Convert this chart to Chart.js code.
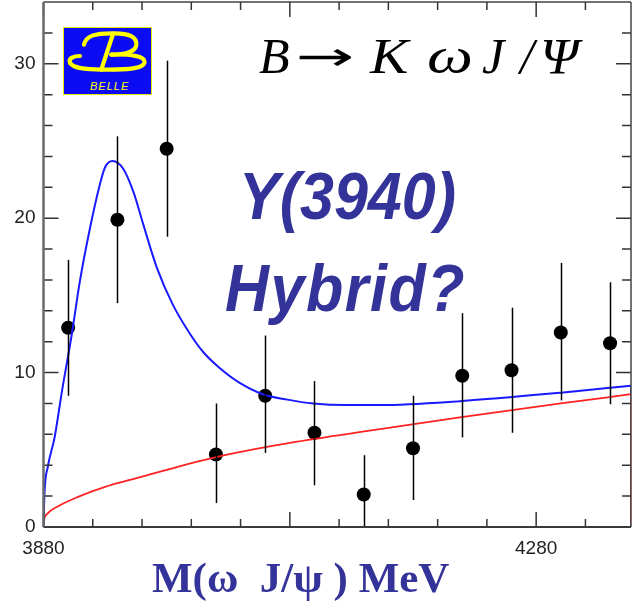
<!DOCTYPE html>
<html lang="en">

<head>
  <meta charset="UTF-8" />
  <title>B → K ω J/Ψ</title>
  <script src="https://cdn.jsdelivr.net/npm/chart.js"></script>
  <style>
    body {
      margin: 0;
      background: #fff;
    }

    #wrap {
      position: relative;
      width: 637px;
      height: 605px;
      overflow: hidden;
    }

    canvas {
      position: absolute;
      left: 0;
      top: 0;
    }

    .lbl {
      position: absolute;
      white-space: pre;
      line-height: 1;
    }

    .hybrid {
      font-family: "Liberation Sans", Arial, sans-serif;
      font-weight: bold;
      font-style: italic;
      font-size: 61px;
      color: #333399;
      transform: scaleY(1.1);
      transform-origin: left top;
    }

    .decay {
      font-family: "Liberation Serif", "Times New Roman", serif;
      font-style: italic;
      font-size: 50px;
      color: #000;
      top: 31px;
    }

    #xtitle {
      font-family: "Liberation Serif", "Times New Roman", serif;
      font-weight: bold;
      font-size: 43px;
      color: #333399;
      left: 152px;
      top: 556px;
    }

    #logo {
      position: absolute;
      left: 63px;
      top: 27px;
      width: 87px;
      height: 66px;
      background: #0c0cf4;
      border: 1px solid #e8e800;
    }

    #logo span {
      position: absolute;
      left: 26px;
      top: 52px;
      font: italic 11px "Liberation Sans", Arial, sans-serif;
      letter-spacing: 1px;
      color: #ffff00;
    }
  </style>
</head>

<body>
  <div id="wrap">
    <canvas id="omegaJpsiChart" width="637" height="605"></canvas>

    <div id="logo">
      <svg width="87" height="66" viewBox="0 0 87 66">
        <g fill="none" stroke="#ffff00" stroke-width="4.2" stroke-linecap="round">
          <path d="M20,16.6 C22,8 30,5 50.6,5.3 C64,5.5 73,8 72.3,17 C71.5,24 60,26.6 47.3,26.6" />
          <path d="M49,6 L37.3,41.6" />
          <path d="M47.3,26.6 C66,26 81,28 80.6,34 C80,41 60,42 37.3,41.6 C25,41.5 10,41 6,35 C4,30 10,28 16,28" />
        </g>
      </svg>
      <span>BELLE</span>
    </div>

    <div class="lbl decay" style="left:259px">B</div>
    <div class="lbl decay" style="left:296px;font-style:normal;font-family:'DejaVu Sans',sans-serif;font-size:40px;top:36px;transform:scaleX(1.75);transform-origin:left top">→</div>
    <div class="lbl decay" style="left:370px;transform:scaleX(1.15);transform-origin:left top">K</div>
    <div class="lbl decay" style="left:427px;transform:scaleX(1.3);transform-origin:left top">ω</div>
    <div class="lbl decay" style="left:482px">J</div>
    <div class="lbl decay" style="left:520px">/</div>
    <div class="lbl decay" style="left:540px;transform:scaleX(1.1);transform-origin:left top">Ψ</div>

    <div class="lbl hybrid" style="left:239px;top:163px">Y(3940)</div>
    <div class="lbl hybrid" style="left:225px;top:255px;letter-spacing:1.5px">Hybrid?</div>

    <div class="lbl" id="xtitle">M(ω  J/ψ ) MeV</div>
  </div>

  <script>
    // measured yield per 40 MeV bin
    const binCenters = [3900, 3940, 3980, 4020, 4060, 4100, 4140, 4180, 4220, 4260, 4300, 4340];
    const counts = [12.9, 19.9, 24.5, 4.7, 8.5, 6.1, 2.1, 5.1, 9.8, 10.15, 12.6, 11.9];
    const errHigh = [17.3, 25.3, 30.2, 8.0, 12.4, 9.45, 4.65, 8.5, 13.85, 14.2, 17.1, 15.85];
    const errLow = [8.5, 14.5, 18.8, 1.55, 4.8, 2.7, 0, 1.75, 5.8, 6.1, 8.2, 7.95];

    // fit: resonance + threshold background
    const fitMass = [3880, 3880.8, 3883.5, 3889, 3895, 3903, 3909.5, 3917.6, 3925.8, 3930, 3936, 3944.7, 3953, 3961,
      3972, 3985, 3999, 4010, 4023, 4039, 4058, 4078, 4099, 4126, 4153, 4218, 4300, 4357];
    const fitTotal = [0, 2.2, 3.9, 5.8, 8.8, 12.5, 15.9, 19.3, 22.2, 23.3, 23.7, 23.2, 21.7, 19.6,
      16.8, 14.4, 12.5, 11.3, 10.3, 9.35, 8.6, 8.25, 8.0, 7.9, 7.9, 8.15, 8.7, 9.15];

    // background only
    const bkgMass = [3880, 3880.5, 3883, 3892, 3908, 3930, 3957, 3989, 4030, 4080, 4150, 4218, 4300, 4357];
    const bkgVal = [0, 0.45, 0.85, 1.35, 1.95, 2.6, 3.2, 3.9, 4.7, 5.45, 6.3, 7.1, 8.0, 8.6];

    // axis ticks
    const xMin = 3880, xMax = 4357;
    const yMin = 0, yMax = 34;
    const xLabels = [3880, 4280];
    const yLabels = [0, 10, 20, 30];
    const xTicks = [3880, 3920, 3960, 4000, 4040, 4080, 4120, 4160, 4200, 4240, 4280, 4320];
    const xMajor = [3880, 4080, 4280];
    const yTicks = [0, 2, 4, 6, 8, 10, 12, 14, 16, 18, 20, 22, 24, 26, 28, 30, 32];
    const yMajor = [0, 10, 20, 30];

    const toXY = (xs, ys) => xs.map((x, i) => ({ x, y: ys[i] }));
    const labelFont = '19px "Liberation Sans", Arial, sans-serif';

    // error bars
    const errorBars = {
      id: 'errorBars',
      afterDatasetsDraw(chart) {
        const { ctx, scales: { x, y } } = chart;
        ctx.save();
        ctx.strokeStyle = '#000';
        ctx.lineWidth = 1.5;
        binCenters.forEach((m, i) => {
          const px = Math.round(x.getPixelForValue(m)) + 0.5;
          ctx.beginPath();
          ctx.moveTo(px, y.getPixelForValue(errHigh[i]));
          ctx.lineTo(px, y.getPixelForValue(errLow[i]));
          ctx.stroke();
        });
        ctx.restore();
      }
    };

    // frame with inward ticks on all four sides, plus y labels
    const frameTicks = {
      id: 'frameTicks',
      afterDraw(chart) {
        const { ctx, chartArea: a, scales: { x, y } } = chart;
        ctx.save();
        ctx.strokeStyle = '#333';
        ctx.lineWidth = 1.5;
        xTicks.forEach(v => {
          const px = x.getPixelForValue(v);
          const len = xMajor.includes(v) ? 15 : 8;
          ctx.beginPath();
          ctx.moveTo(px, a.bottom); ctx.lineTo(px, a.bottom - len);
          ctx.moveTo(px, a.top); ctx.lineTo(px, a.top + len);
          ctx.stroke();
        });
        yTicks.forEach(v => {
          const py = y.getPixelForValue(v);
          const len = yMajor.includes(v) ? 15 : 9;
          ctx.beginPath();
          ctx.moveTo(a.left, py); ctx.lineTo(a.left + len, py);
          ctx.moveTo(a.right, py); ctx.lineTo(a.right - len, py);
          ctx.stroke();
        });
        // box
        ctx.lineWidth = 1.5;
        ctx.strokeStyle = '#444';
        ctx.beginPath();
        ctx.moveTo(a.left, a.top); ctx.lineTo(a.right, a.top);
        ctx.moveTo(a.right, a.top); ctx.lineTo(a.right, a.bottom);
        ctx.stroke();
        ctx.lineWidth = 2;
        ctx.strokeStyle = '#3a3a3a';
        ctx.beginPath();
        ctx.moveTo(a.left, a.bottom); ctx.lineTo(a.right, a.bottom);
        ctx.stroke();
        ctx.lineWidth = 2.5;
        ctx.strokeStyle = '#6a6a6a';
        ctx.beginPath();
        ctx.moveTo(a.left, a.top); ctx.lineTo(a.left, a.bottom);
        ctx.stroke();

        ctx.fillStyle = '#222';
        ctx.font = labelFont;
        ctx.textAlign = 'right';
        ctx.textBaseline = 'middle';
        yLabels.forEach(v => ctx.fillText(String(v), a.left - 8, y.getPixelForValue(v)));
        ctx.restore();
      }
    };

    new Chart(document.getElementById('omegaJpsiChart').getContext('2d'), {
      type: 'scatter',
      data: {
        datasets: [
          {
            label: 'total fit',
            data: toXY(fitMass, fitTotal),
            showLine: true,
            borderColor: '#1a1aff',
            borderWidth: 2,
            pointRadius: 0,
            cubicInterpolationMode: 'monotone'
          },
          {
            label: 'background',
            data: toXY(bkgMass, bkgVal),
            showLine: true,
            borderColor: '#ff2222',
            borderWidth: 1.8,
            pointRadius: 0,
            cubicInterpolationMode: 'monotone'
          },
          {
            // curves close down to the axis at the upper range edge
            label: 'fit edge',
            data: [{ x: xMax, y: fitTotal[fitTotal.length - 1] }, { x: xMax, y: bkgVal[bkgVal.length - 1] }],
            showLine: true,
            borderColor: '#1a1aff',
            borderWidth: 2,
            pointRadius: 0
          },
          {
            label: 'bkg edge',
            data: [{ x: xMax, y: bkgVal[bkgVal.length - 1] }, { x: xMax, y: 0 }],
            showLine: true,
            borderColor: '#ff2222',
            borderWidth: 2,
            pointRadius: 0
          },
          {
            label: 'data',
            data: toXY(binCenters, counts),
            backgroundColor: '#000',
            borderWidth: 0,
            pointRadius: 7,
            pointHoverRadius: 7
          }
        ]
      },
      options: {
        responsive: false,
        animation: false,
        devicePixelRatio: 1,
        layout: { autoPadding: false, padding: { top: 2, right: 6, left: 0, bottom: 0 } },
        plugins: {
          legend: { display: false },
          tooltip: { enabled: false }
        },
        scales: {
          x: {
            type: 'linear',
            min: xMin,
            max: xMax,
            grid: { display: false, drawTicks: false },
            border: { display: false },
            afterBuildTicks: s => { s.ticks = xLabels.map(v => ({ value: v })); },
            afterFit: s => { s.height = 78; },
            ticks: {
              padding: 10,
              maxRotation: 0,
              color: '#222',
              font: { family: '"Liberation Sans", Arial, sans-serif', size: 19 },
              callback: v => String(v)
            }
          },
          y: {
            min: yMin,
            max: yMax,
            grid: { display: false, drawTicks: false },
            border: { display: false },
            afterFit: s => { s.width = 43.5; },
            ticks: { display: false }
          }
        }
      },
      plugins: [errorBars, frameTicks]
    });
  </script>
</body>

</html>
